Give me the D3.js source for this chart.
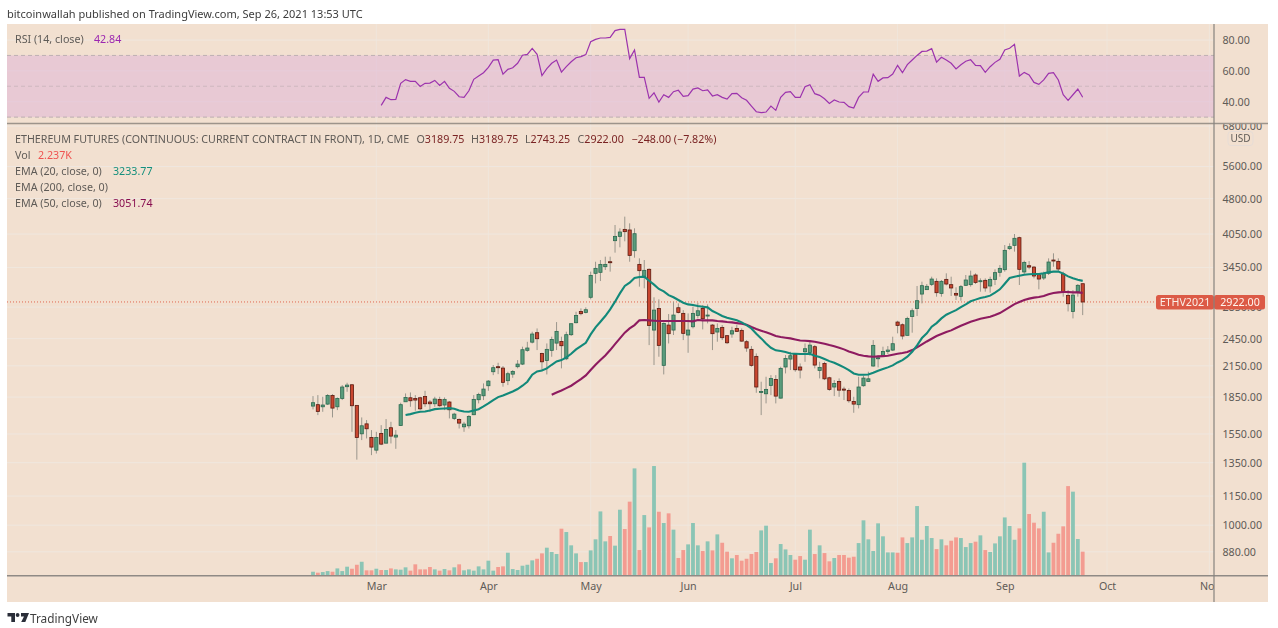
<!DOCTYPE html>
<html>
<head>
<meta charset="utf-8">
<script src="https://cdn.jsdelivr.net/npm/d3@7"></script>
<style>
  html, body { margin: 0; padding: 0; background: #fff; }
  svg { display: block; filter: blur(0.45px); }
  text { font-family: "Noto Sans", sans-serif; }
</style>
</head>
<body>
<div id="chart-area"></div>
<script>
// candles (one per trading day, weekends are not on the axis)
var opens = [
  1772,1784,1766,1789,1865,1766,1838,1945,1963,1778,
  1551,1627,1524,1434,1554,1483,1597,1527,1614,1809,
  1844,1838,1844,1856,1807,1792,1830,1781,1807,1670,
  1662,1604,1612,1700,1827,1862,1954,2090,2141,2127,
  2002,2066,2141,2168,2316,2409,2521,2282,2206,2316,
  2398,2417,2224,2497,2645,2792,2779,2988,3353,3369,
  3461,3545,3922,4004,4141,4129,3738,3500,3299,3418,
  2553,2833,2155,2615,2553,2842,2766,2493,2594,2739,
  2833,2731,2615,2529,2586,2485,2505,2573,2549,2414,
  2327,2250,1895,1880,1957,2014,1841,2138,2221,2271,
  2138,2300,2293,2357,2103,2175,2030,1942,1995,1923,
  1910,1812,1784,1954,1995,2148,2228,2253,2304,2319,
  2653,2619,2489,2726,2833,3035,3100,3180,3226,3045,
  3257,3175,3045,3002,3165,3175,3326,3226,3242,3155,
  3257,3369,3412,3775,3835,3979,3375,3478,3455,3331,
  3278,3353,3574,3551,3343,3015,2792,3070,3189.75
];
var highs = [
  1859,1868,1853,1877,1877,1847,1960,1982,1967,1778,
  1678,1657,1579,1566,1617,1665,1643,1579,1801,1883,
  1892,1868,1853,1907,1824,1853,1853,1847,1815,1716,
  1670,1643,1697,1868,1889,1976,2008,2158,2182,2148,
  2090,2107,2210,2357,2413,2533,2573,2289,2394,2473,
  2653,2473,2533,2636,2788,2833,2847,3380,3545,3574,
  3632,3632,4229,4162,4402,4263,4162,3603,3574,3434,
  2988,2959,2649,2757,2926,2902,2810,2766,2856,2911,
  2879,2888,2628,2636,2615,2493,2594,2615,2573,2433,
  2364,2282,1992,2040,2056,2056,2141,2264,2300,2282,
  2175,2394,2414,2375,2192,2192,2040,2008,2024,1945,
  1929,1853,2040,2050,2090,2433,2264,2357,2364,2473,
  2670,2636,2722,2833,3155,3221,3185,3299,3273,3247,
  3353,3299,3135,3170,3326,3396,3353,3273,3273,3299,
  3418,3489,3841,3872,4050,3998,3563,3557,3472,3353,
  3380,3603,3691,3603,3380,3095,3095,3185,3189.75
];
var lows = [
  1744,1697,1724,1781,1678,1738,1824,1898,1566,1370,
  1505,1517,1400,1411,1469,1481,1481,1443,1612,1809,
  1766,1733,1738,1766,1724,1766,1766,1738,1670,1657,
  1591,1566,1591,1697,1795,1824,1907,2056,2066,1945,
  1960,2030,2124,2158,2300,2394,2319,2107,2063,2246,
  2319,2124,2210,2481,2636,2740,2766,2959,3195,3231,
  3407,3380,3703,3799,3910,3545,3614,3145,3120,2375,
  2158,2246,2063,2394,2493,2766,2433,2289,2573,2700,
  2561,2636,2319,2414,2433,2387,2461,2533,2414,2300,
  2141,1889,1697,1795,1868,1795,1838,2073,2107,2090,
  2024,2192,2257,2124,2024,2008,1907,1859,1853,1824,
  1801,1716,1752,1945,1989,2141,2134,2246,2275,2308,
  2513,2441,2489,2521,2731,2902,3095,3155,2997,2997,
  3165,3007,2950,2940,3155,3145,3185,3070,3070,3055,
  3170,3299,3380,3750,3721,3170,3326,3418,3273,3105,
  3247,3326,3461,3380,2997,2792,2700,2997,2743.25
];
var closes = [
  1801,1727,1781,1865,1755,1838,1942,1960,1775,1524,
  1612,1589,1455,1524,1476,1584,1534,1541,1784,1847,
  1818,1824,1749,1792,1792,1833,1775,1830,1741,1705,
  1633,1625,1686,1830,1874,1923,1998,2131,2138,1986,
  2070,2093,2168,2323,2342,2505,2449,2192,2327,2441,
  2537,2368,2497,2632,2739,2762,2815,3320,3434,3500,
  3500,3528,4004,4089,4096,3655,4056,3396,3401,2611,
  2810,2372,2636,2509,2744,2779,2513,2553,2766,2801,
  2696,2744,2509,2573,2461,2402,2545,2537,2421,2342,
  2155,1942,1901,1920,2024,1859,2124,2228,2257,2110,
  2107,2334,2375,2158,2134,2020,1920,1976,1913,1913,
  1818,1789,1942,2027,2020,2372,2235,2304,2319,2391,
  2611,2481,2700,2801,2940,3160,3150,3262,3055,3226,
  3185,3125,3020,3145,3247,3310,3210,3236,3125,3257,
  3364,3434,3744,3811,3967,3418,3534,3455,3310,3262,
  3348,3540,3563,3423,3070,2897,3020,3165,2922
];
// volume in thousands
var volumes = [
  0.37,0.28,0.34,0.43,0.37,0.68,0.43,0.84,0.65,1.02,
  1.30,0.50,0.50,0.65,0.53,0.53,0.68,0.59,0.56,0.78,
  0.47,1.06,0.59,0.59,0.81,0.59,0.47,0.62,0.50,0.78,
  1.06,0.50,0.59,0.47,0.87,0.59,1.40,0.47,0.81,0.87,
  2.14,0.62,0.53,0.93,1.02,1.43,1.58,2.08,2.61,2.21,
  2.02,4.38,4.07,2.83,2.08,1.27,1.27,2.36,3.39,5.99,
  3.20,3.70,2.80,6.15,4.35,6.90,10.00,2.39,5.65,4.50,
  10.22,5.96,4.91,5.81,4.29,1.65,2.39,2.92,4.91,2.83,
  2.30,3.20,2.36,3.85,3.07,2.24,1.62,1.93,1.40,1.58,
  2.02,2.21,4.22,4.66,1.18,1.62,2.95,2.45,1.93,1.49,
  1.83,1.49,4.29,2.02,2.83,2.11,1.34,1.65,1.93,1.93,
  1.68,1.77,3.04,5.16,3.39,2.30,4.88,3.67,2.17,2.17,
  2.14,3.57,3.04,3.57,6.49,3.35,4.63,3.51,2.48,3.39,
  2.83,3.26,3.57,3.51,2.67,3.04,3.17,3.76,2.39,2.21,
  3.01,3.67,5.43,4.63,3.35,4.41,10.53,5.75,4.94,4.41,
  5.96,2.17,3.07,3.91,4.60,8.35,7.83,3.42,2.24
];
var ema20Start = 19;
var ema20 = [
  1697,1705,1716,1724,1727,1735,1746,1749,1752,1755,1749,1735,1727,1724,1735,1746,1769,1795,1824,1850,
  1865,1883,1901,1923,1954,1992,2060,2093,2103,2124,2161,2196,2210,2239,2278,2327,2364,2402,2501,2586,
  2657,2731,2819,2926,3045,3155,3205,3278,3294,3299,3236,3175,3110,3075,3020,2988,2950,2911,2888,2879,
  2865,2856,2847,2797,2766,2731,2709,2692,2675,2649,2615,2573,2509,2453,2394,2345,2316,2308,2297,2282,
  2278,2275,2275,2278,2257,2243,2221,2199,2182,2158,2134,2107,2073,2060,2060,2063,2080,2100,2117,2134,
  2155,2185,2210,2246,2300,2372,2457,2513,2594,2640,2700,2748,2779,2810,2851,2888,2931,2955,2978,2992,
  3012,3055,3105,3190,3278,3299,3315,3331,3337,3342,3342,3353,3369,3380,3380,3348,3304,3273,3252,3233.77
];
var ema50Start = 49;
var ema50 = [
  1871,1892,1910,1932,1954,1986,2017,2053,2107,2161,2210,2260,2319,2387,2453,2521,2573,2615,2675,2679,
  2675,2670,2666,2666,2666,2666,2666,2666,2666,2662,2679,2675,2675,2675,2666,2662,2653,2649,2640,2632,
  2619,2590,2565,2545,2525,2505,2481,2469,2461,2453,2441,2429,2425,2421,2414,2402,2391,2375,2361,2345,
  2327,2304,2286,2268,2257,2250,2246,2250,2253,2257,2268,2278,2286,2297,2319,2349,2383,2417,2449,2481,
  2505,2529,2549,2578,2607,2632,2657,2675,2696,2709,2722,2744,2770,2810,2851,2892,2921,2950,2969,2983,
  2992,3007,3032,3050,3060,3065,3065,3060,3060,3051.74
];
var rsiStart = 14;
var rsiValues = [
  37.6,42.8,41.3,41.5,51.9,54.3,53.2,53.2,49.9,51.9,52.1,53.8,50.6,53.2,48.7,46.7,43.2,42.8,47.1,54.5,
  56.6,58.8,62.3,67.0,67.2,57.9,61.0,62.0,64.9,70.1,70.7,74.6,70.7,56.9,61.4,64.9,67.0,59.2,62.7,65.9,
  68.5,69.2,70.5,78.9,80.4,81.3,81.3,81.7,86.1,86.9,86.9,67.9,73.5,55.8,55.8,42.2,45.8,39.8,44.5,42.8,
  46.5,47.4,43.5,43.9,48.2,48.9,47.1,47.6,43.7,44.5,42.8,41.7,45.2,45.4,42.6,40.9,37.2,33.5,32.9,33.3,
  37.2,34.4,42.8,46.1,46.5,42.8,42.8,49.7,51.0,45.2,44.1,41.9,38.9,41.1,39.8,39.6,36.8,35.9,42.8,46.3,
  46.3,57.9,53.2,55.4,55.6,57.9,63.6,58.8,64.0,67.0,70.0,72.6,72.8,74.4,65.7,68.8,67.0,64.9,61.2,64.0,
  66.2,67.2,63.6,63.4,59.0,62.7,65.5,67.5,73.5,74.6,77.2,56.6,59.0,57.3,52.5,51.2,54.1,58.4,58.8,54.1,
  44.5,40.9,44.5,48.2,42.84
];

var monthLabels = ["Mar", "Apr", "May", "Jun", "Jul", "Aug", "Sep", "Oct", "Nov"];
var monthBars = [13, 36, 57, 77, 99, 120, 142, 163, 184];
var priceTicks = [6800, 5600, 4800, 4050, 3450, 2850, 2450, 2150, 1850, 1550, 1350, 1150, 1000, 880];
var rsiTicks = [80, 60, 40];
var rsiLevels = [70, 50, 30];
var lastPrice = 2922;

var width = 1278;
var height = 628;
var panelLeft = 7, panelRight = 1268, panelTop = 24, panelBottom = 602;
var axisX = 1214, rsiBottom = 123.5, priceBottom = 575.7;
var gridColor = "#efe7df";
var textColor = "#5f5b57";

var svg = d3
  .select("#chart-area")
  .append("svg")
  .attr("width", width)
  .attr("height", height);

svg.append("rect")
  .attr("x", panelLeft).attr("y", panelTop)
  .attr("width", panelRight - panelLeft).attr("height", panelBottom - panelTop)
  .attr("fill", "#f2e0d0");

var clip = svg.append("defs");
clip.append("clipPath").attr("id", "rsi-pane").append("rect")
  .attr("x", panelLeft).attr("y", panelTop)
  .attr("width", axisX - panelLeft).attr("height", rsiBottom - panelTop);
clip.append("clipPath").attr("id", "price-pane").append("rect")
  .attr("x", panelLeft).attr("y", rsiBottom)
  .attr("width", axisX - panelLeft).attr("height", priceBottom - rsiBottom);
clip.append("clipPath").attr("id", "price-axis").append("rect")
  .attr("x", axisX).attr("y", rsiBottom)
  .attr("width", panelRight - axisX).attr("height", priceBottom - rsiBottom);
clip.append("clipPath").attr("id", "time-axis").append("rect")
  .attr("x", panelLeft).attr("y", priceBottom)
  .attr("width", axisX - panelLeft).attr("height", panelBottom - priceBottom);

// scales
var x = d3.scaleLinear().domain([0, 158]).range([313, 1082.7]);
var y = d3.scaleLog().domain([880, 4050]).range([551.8, 234]);
var yRsi = d3.scaleLinear().domain([40, 80]).range([101.7, 40]);
var yVol = d3.scaleLinear().domain([0, 10.53]).range([priceBottom, 462.7]);

// grid
svg.selectAll(".grid-x")
  .data(monthBars)
  .enter()
  .append("line")
  .attr("x1", d => x(d)).attr("x2", d => x(d))
  .attr("y1", panelTop).attr("y2", priceBottom)
  .attr("stroke", gridColor).attr("stroke-opacity", 0.75);

svg.append("g").attr("clip-path", "url(#price-pane)")
  .selectAll("line")
  .data(priceTicks)
  .enter()
  .append("line")
  .attr("x1", panelLeft).attr("x2", axisX)
  .attr("y1", d => y(d)).attr("y2", d => y(d))
  .attr("stroke", gridColor);

svg.selectAll(".grid-rsi")
  .data(rsiTicks)
  .enter()
  .append("line")
  .attr("x1", panelLeft).attr("x2", axisX)
  .attr("y1", d => yRsi(d)).attr("y2", d => yRsi(d))
  .attr("stroke", gridColor);

// rsi band sits over the grid so the lines go lavender inside it
svg.append("rect")
  .attr("x", panelLeft).attr("y", yRsi(70))
  .attr("width", axisX - panelLeft).attr("height", yRsi(30) - yRsi(70))
  .attr("fill", "#e0b6d7")
  .attr("fill-opacity", 0.55);

svg.selectAll(".rsi-level")
  .data(rsiLevels)
  .enter()
  .append("line")
  .attr("x1", panelLeft).attr("x2", axisX)
  .attr("y1", d => yRsi(d)).attr("y2", d => yRsi(d))
  .attr("stroke", "#b5a8ab")
  .attr("stroke-width", 1)
  .attr("stroke-dasharray", "4 3")
  .attr("stroke-opacity", d => d === 50 ? 0.5 : 0.85);

// rsi line
var rsiLine = d3.line()
  .x((d, i) => x(i + rsiStart))
  .y(d => yRsi(d));

svg.append("path")
  .attr("clip-path", "url(#rsi-pane)")
  .datum(rsiValues)
  .attr("d", rsiLine)
  .attr("fill", "none")
  .attr("stroke", "#9c33ad")
  .attr("stroke-width", 1.2);

// volume
var pane = svg.append("g").attr("clip-path", "url(#price-pane)");

pane.selectAll(".vol")
  .data(volumes)
  .enter()
  .append("rect")
  .attr("x", (d, i) => x(i) - 1.9)
  .attr("y", d => yVol(d))
  .attr("width", 3.8)
  .attr("height", d => priceBottom - yVol(d))
  .attr("fill", (d, i) => closes[i] >= opens[i] ? "#8bc5b5" : "#f39c91");

// last price line
pane.append("line")
  .attr("x1", panelLeft).attr("x2", axisX)
  .attr("y1", y(lastPrice)).attr("y2", y(lastPrice))
  .attr("stroke", "#e0664f")
  .attr("stroke-width", 1)
  .attr("stroke-dasharray", "1 2");

// candles
var bars = d3.range(opens.length);

pane.selectAll(".wick")
  .data(bars)
  .enter()
  .append("line")
  .attr("x1", d => x(d)).attr("x2", d => x(d))
  .attr("y1", d => y(highs[d])).attr("y2", d => y(lows[d]))
  .attr("stroke", "#9a968c")
  .attr("stroke-width", 1);

pane.selectAll(".body")
  .data(bars)
  .enter()
  .append("rect")
  .attr("x", d => x(d) - 1.6)
  .attr("y", d => y(Math.max(opens[d], closes[d])))
  .attr("width", 3.2)
  .attr("height", d => Math.max(1, Math.abs(y(opens[d]) - y(closes[d]))))
  .attr("fill", d => closes[d] >= opens[d] ? "#5a9c7c" : "#c9462f")
  .attr("stroke", d => closes[d] >= opens[d] ? "#2c6a50" : "#5c1a10")
  .attr("stroke-width", 0.8);

// moving averages
var line20 = d3.line().x((d, i) => x(i + ema20Start)).y(d => y(d));
var line50 = d3.line().x((d, i) => x(i + ema50Start)).y(d => y(d));

pane.append("path")
  .datum(ema50)
  .attr("d", line50)
  .attr("fill", "none")
  .attr("stroke", "#8e1b60")
  .attr("stroke-width", 2.1);

pane.append("path")
  .datum(ema20)
  .attr("d", line20)
  .attr("fill", "none")
  .attr("stroke", "#12897a")
  .attr("stroke-width", 2.1);

// axes
var priceAxis = d3.axisRight(y)
  .tickValues(priceTicks)
  .tickFormat(d3.format(".2f"))
  .tickSize(0)
  .tickPadding(8.5);

var rsiAxis = d3.axisRight(yRsi)
  .tickValues(rsiTicks)
  .tickFormat(d3.format(".2f"))
  .tickSize(0)
  .tickPadding(8.5);

var timeAxis = d3.axisBottom(x)
  .tickValues(monthBars)
  .tickFormat((d, i) => monthLabels[i])
  .tickSize(0)
  .tickPadding(7);

function styleAxis(g) {
  g.select(".domain").remove();
  g.selectAll("text")
    .attr("fill", textColor)
    .style("font-family", '"Noto Sans", sans-serif')
    .style("font-size", "10.7px");
}

svg.append("g")
  .attr("clip-path", "url(#price-axis)")
  .append("g")
  .attr("transform", "translate(" + axisX + ",0)")
  .call(priceAxis)
  .call(styleAxis);

svg.append("g")
  .attr("transform", "translate(" + axisX + ",0)")
  .call(rsiAxis)
  .call(styleAxis);

svg.append("g")
  .attr("clip-path", "url(#time-axis)")
  .append("g")
  .attr("transform", "translate(0," + priceBottom + ")")
  .call(timeAxis)
  .call(styleAxis);

// frame lines
svg.append("line")
  .attr("x1", panelLeft).attr("x2", panelRight)
  .attr("y1", rsiBottom).attr("y2", rsiBottom)
  .attr("stroke", "#9c948b").attr("stroke-width", 1.6);
svg.append("line")
  .attr("x1", panelLeft).attr("x2", panelRight)
  .attr("y1", priceBottom).attr("y2", priceBottom)
  .attr("stroke", "#8f8a85").attr("stroke-width", 1.4);

// price labels on the right
var labelGroup = svg.append("g");
labelGroup.append("rect")
  .attr("x", 1156).attr("y", y(lastPrice) - 7)
  .attr("width", 58).attr("height", 14.5).attr("rx", 2.5)
  .attr("fill", "#dc5a46");
labelGroup.append("rect")
  .attr("x", axisX).attr("y", y(lastPrice) - 7)
  .attr("width", 51).attr("height", 14.5).attr("rx", 2.5)
  .attr("fill", "#dc5a46");
labelGroup.append("text")
  .attr("x", 1185).attr("y", y(lastPrice) + 4)
  .attr("text-anchor", "middle")
  .attr("fill", "#fbeee6")
  .attr("font-size", 10.7)
  .text("ETHV2021");
labelGroup.append("text")
  .attr("x", 1240).attr("y", y(lastPrice) + 4)
  .attr("text-anchor", "middle")
  .attr("fill", "#fff5ee")
  .attr("font-size", 10.7)
  .text(d3.format(".2f")(lastPrice));

svg.append("line")
  .attr("x1", axisX).attr("x2", axisX)
  .attr("y1", panelTop).attr("y2", panelBottom)
  .attr("stroke", "#86827e").attr("stroke-width", 1.2);

svg.append("rect")
  .attr("x", 1228).attr("y", 131.5)
  .attr("width", 25).attr("height", 14).attr("rx", 3)
  .attr("fill", "#f2e0d0")
  .attr("stroke", "#e6dcd6");
svg.append("text")
  .attr("x", 1240.5).attr("y", 142)
  .attr("text-anchor", "middle")
  .attr("fill", textColor)
  .attr("font-size", 10)
  .text("USD");

// header and legend
svg.append("text")
  .attr("x", 7).attr("y", 18)
  .attr("fill", "#3c3c3c")
  .attr("font-size", 11)
  .text("bitcoinwallah published on TradingView.com, Sep 26, 2021 13:53 UTC");

function legendRow(rowY, label, value, color, valueX) {
  svg.append("text")
    .attr("x", 15).attr("y", rowY)
    .attr("fill", textColor)
    .attr("font-size", 10.7)
    .text(label);
  if (value) {
    svg.append("text")
      .attr("x", valueX).attr("y", rowY)
      .attr("fill", color)
      .attr("font-size", 10.7)
      .text(value);
  }
}

legendRow(43, "RSI (14, close)", "42.84", "#9c27b0", 94);
legendRow(143, "ETHEREUM FUTURES (CONTINUOUS: CURRENT CONTRACT IN FRONT), 1D, CME");
legendRow(159, "Vol", "2.237K", "#ef5350", 38);
legendRow(175, "EMA (20, close, 0)", "3233.77", "#138f7c", 113);
legendRow(191, "EMA (200, close, 0)");
legendRow(207, "EMA (50, close, 0)", "3051.74", "#880e4f", 113);

var ohlcLetters = ["O", "H", "L", "C"];
var ohlcValues = ["3189.75", "3189.75", "2743.25", "2922.00"];
var ohlcX = [416.5, 471, 525, 577.5];

ohlcLetters.forEach(function (letter, i) {
  var t = svg.append("text")
    .attr("x", ohlcX[i]).attr("y", 143)
    .attr("fill", textColor)
    .attr("font-size", 10.7);
  t.append("tspan").text(letter);
  t.append("tspan").attr("fill", "#7a2323").text(ohlcValues[i]);
});

svg.append("text")
  .attr("x", 631.5).attr("y", 143)
  .attr("fill", "#7a2323")
  .attr("font-size", 10.7)
  .text("\u2212248.00 (\u22127.82%)");

// tradingview mark
var logo = svg.append("g").attr("fill", "#2a2e39");
logo.append("path").attr("d", "M7.5 613H15V622H11.3V616.6H7.5Z");
logo.append("circle").attr("cx", 17.6).attr("cy", 615).attr("r", 1.9);
logo.append("path").attr("d", "M21 613H29L25.3 622H21.2L24 616.6H21Z");

svg.append("text")
  .attr("x", 30).attr("y", 622.5)
  .attr("fill", "#3f3f3f")
  .attr("font-size", 11.8)
  .text("TradingView");
</script>
</body>
</html>
